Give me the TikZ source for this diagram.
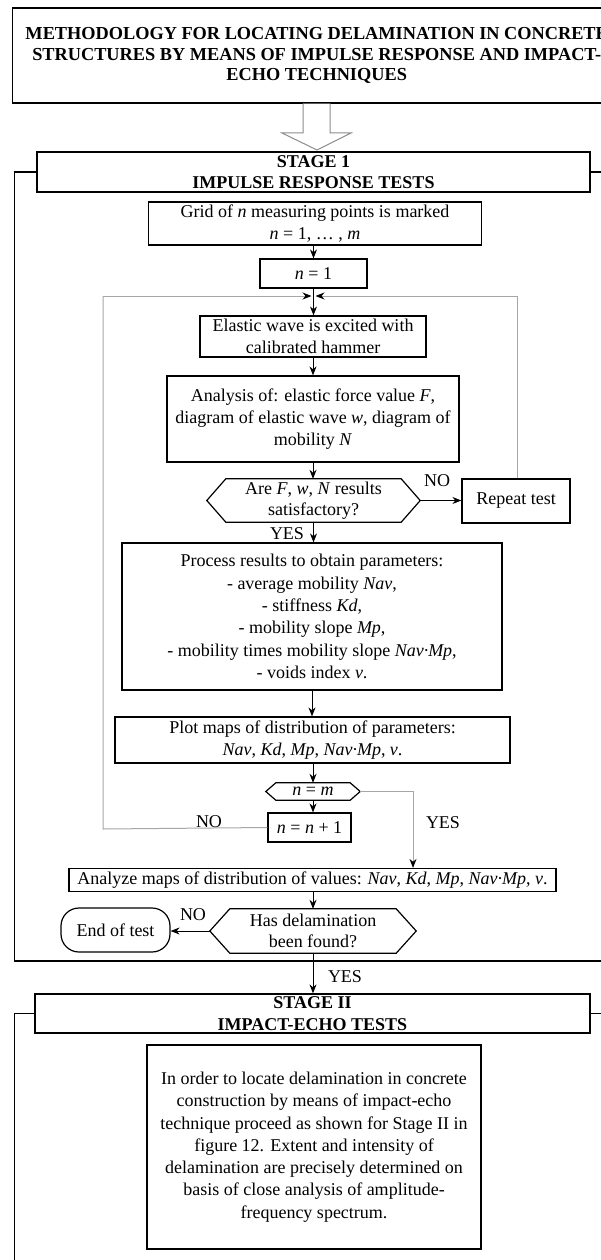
\documentclass[tikz,border=0pt]{standalone}
\usepackage{fontspec}
\setmainfont{Liberation Serif}
\usetikzlibrary{arrows.meta}
\begin{document}
\begin{tikzpicture}[x=1pt,y=-1pt,
  box/.style={draw, line width=1.2pt, inner sep=0pt, align=center, font=\fontsize{18}{22.3}\selectfont},
  hdr/.style={draw, line width=1.3pt, inner sep=0pt, align=center, font=\fontsize{18}{21.5}\selectfont\bfseries},
  hexa/.style={inner sep=0pt, align=center, font=\fontsize{18}{21.5}\selectfont},
  arr/.style={-{Stealth[length=9pt,width=7pt,color=black]}, line width=0.9pt},
  loopline/.style={draw=black!35, line width=1pt},
  lbl/.style={font=\fontsize{18}{20}\selectfont, inner sep=0pt},
  frame/.style={line width=1.3pt}
]
\useasboundingbox (0,0) rectangle (601,1260);

% title
\node[hdr, line width=1.4pt, minimum width=608pt, minimum height=95pt, font=\fontsize{18.3}{20.5}\selectfont\bfseries] (title) at (316.7,55.5)
 {METHODOLOGY FOR LOCATING DELAMINATION IN CONCRETE\\STRUCTURES BY MEANS OF IMPULSE RESPONSE AND IMPACT-\\ECHO TECHNIQUES};

% stage 1
\node[hdr, minimum width=553pt, minimum height=40pt] (s1) at (313.5,172) {STAGE 1\\IMPULSE RESPONSE TESTS};
\draw[draw=black!45, fill=white, line width=1pt] (title.south -| 303,0) -- (303,133) -- (282,133) -- (317,150) -- (351,133) -- (330,133) -- (title.south -| 330,0);

\coordinate (fr1) at (14.5,172);
\coordinate (fr2) at (14.5,961);
\coordinate (fr3) at (631,961);
\coordinate (fr4) at (631,172);
\draw[frame] (s1.west) -- (fr1) -- (fr2) -- (fr3) -- (fr4) -- (s1.east);

\node[box, minimum width=333pt, minimum height=43pt] (grid) at (315,223.5) {Grid of \textit{n} measuring points is marked\\\textit{n} = 1, … , \textit{m}};
\node[box, minimum width=107pt, minimum height=29pt] (n1) at (313.5,273.5) {\textit{n} = 1};
\node[box, minimum width=226pt, minimum height=41pt] (wave) at (313,336.5) {Elastic wave is excited with\\calibrated hammer};
\node[box, minimum width=292pt, minimum height=86pt] (anal) at (313,419) {Analysis of: elastic force value \textit{F},\\diagram of elastic wave \textit{w}, diagram of\\mobility \textit{N}};

\node[hexa, minimum width=213pt, minimum height=43pt] (q1) at (313.5,500.5) {Are \textit{F}, \textit{w}, \textit{N} results\\satisfactory?};
\draw[line width=1.2pt] (q1.west) -- ([xshift=19pt]q1.north west) -- ([xshift=-19pt]q1.north east) -- (q1.east) -- ([xshift=-19pt]q1.south east) -- ([xshift=19pt]q1.south west) -- cycle;

\node[box, minimum width=108pt, minimum height=44pt] (rep) at (516,501) {Repeat test};

\node[box, minimum width=380pt, minimum height=147pt] (proc) at (312,616.5) {Process results to obtain parameters:\\- average mobility \textit{Nav},\\- stiffness \textit{Kd},\\- mobility slope \textit{Mp},\\- mobility times mobility slope \textit{Nav·Mp},\\- voids index \textit{v}.};
\node[box, minimum width=395pt, minimum height=46pt] (plot) at (312.5,740) {Plot maps of distribution of parameters:\\\textit{Nav}, \textit{Kd}, \textit{Mp}, \textit{Nav·Mp}, \textit{v}.};

\node[hexa, minimum width=94pt, minimum height=17pt] (q2) at (313,791.5) {\textit{n} = \textit{m}};
\draw[line width=1.2pt] (q2.west) -- ([xshift=10pt]q2.north west) -- ([xshift=-10pt]q2.north east) -- (q2.east) -- ([xshift=-10pt]q2.south east) -- ([xshift=10pt]q2.south west) -- cycle;

\node[box, minimum width=83pt, minimum height=29pt] (nn) at (309.5,827.5) {\textit{n} = \textit{n} + 1};

\node[box, minimum width=487pt, minimum height=23pt] (anz) at (312.5,880) {Analyze maps of distribution of values: \textit{Nav}, \textit{Kd}, \textit{Mp}, \textit{Nav·Mp}, \textit{v}.};

\node[hexa, minimum width=206pt, minimum height=44pt] (q3) at (313,931) {Has delamination\\been found?};
\draw[line width=1.2pt] (q3.west) -- ([xshift=20pt]q3.north west) -- ([xshift=-20pt]q3.north east) -- (q3.east) -- ([xshift=-20pt]q3.south east) -- ([xshift=20pt]q3.south west) -- cycle;

\node[box, rounded corners=18pt, minimum width=109pt, minimum height=44pt] (end) at (115.5,930) {End of test};

% stage 2
\node[hdr, minimum width=555pt, minimum height=39pt] (s2) at (312.5,1013.5) {STAGE II\\IMPACT-ECHO TESTS};
\coordinate (gr1) at (14.5,1013.5);
\coordinate (gr2) at (14.5,1275);
\coordinate (gr3) at (631,1013.5);
\draw[frame] (s2.west) -- (gr1) -- (gr2);
\draw[frame] (s2.east) -- (gr3);

\node[box, minimum width=334pt, minimum height=204pt] (fin) at (314,1147) {In order to locate delamination in concrete\\construction by means of impact-echo\\technique proceed as shown for Stage II in\\figure 12. Extent and intensity of\\delamination are precisely determined on\\basis of close analysis of amplitude-\\frequency spectrum.};

% main connectors
\draw[arr] (grid.south -| n1.north) -- (n1.north);
\draw[arr] (n1.south) -- (wave.north -| n1.south);
\draw[arr] (wave.south) -- (anal.north);
\draw[arr] (anal.south) -- (q1.north -| anal.south);
\draw[arr] (q1.east) -- (rep.west |- q1.east);
\draw[arr] (q1.south) -- (proc.north -| q1.south);
\draw[arr] (proc.south) -- (plot.north -| proc.south);
\draw[arr] (plot.south -| q2.north) -- (q2.north);
\draw[arr] (q2.south) -- (nn.north -| q2.south);
\draw[arr] (anz.south -| q3.north) -- (q3.north);
\draw[arr] (q3.west) -- (end.east |- q3.west);
\draw[arr] (q3.south) -- (s2.north -| q3.south);

% loop lines
\coordinate (lp1) at (103,829);
\coordinate (lp2) at (103,296);
\coordinate (lpm) at (313.5,296);
\coordinate (lp3) at (517,296);
\coordinate (yb) at (413,791.5);
\draw[loopline] (nn.west) -- (lp1) -- (lp2);
\draw[loopline, arr] (lp2) -- ([xshift=-2pt]lpm);
\draw[loopline] (rep.north -| lp3) -- (lp3);
\draw[loopline, arr] (lp3) -- ([xshift=2pt]lpm);
\draw[loopline, arr] (q2.east) -- (yb) -- (yb |- anz.north);

% labels
\node[lbl] (no1) at (437,481) {NO};
\node[lbl] (yes1) at (287,534) {YES};
\node[lbl] (yes2) at (443,823) {YES};
\node[lbl] (no2) at (209,822) {NO};
\node[lbl] (no3) at (193,915) {NO};
\node[lbl] (yes3) at (345,977) {YES};
\end{tikzpicture}
\end{document}
